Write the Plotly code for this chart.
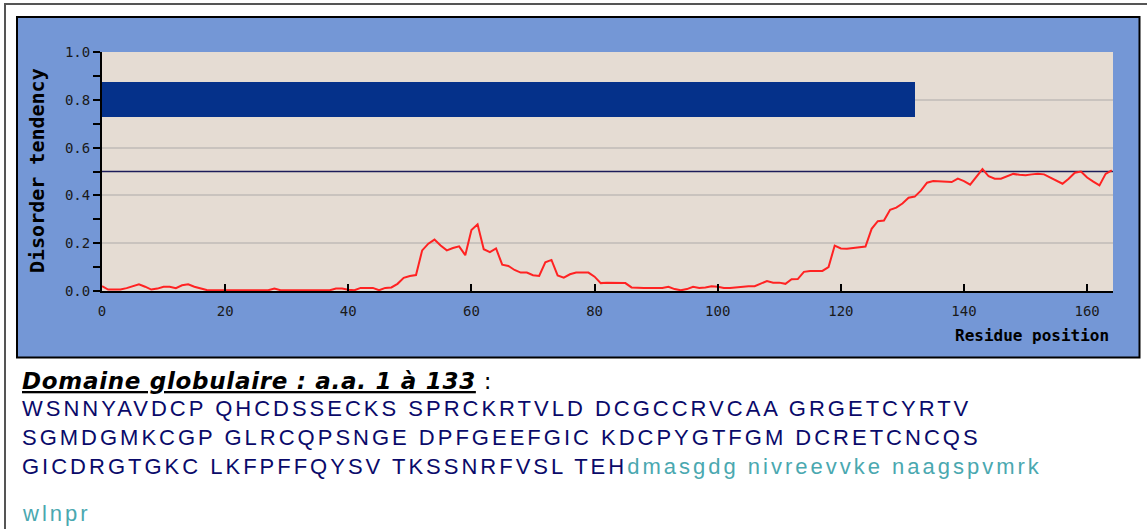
import plotly.graph_objects as go

# Per-residue disorder tendency (residue index 0..164)
positions = list(range(165))
disorder = [
    0.020, 0.006, 0.006, 0.006, 0.012, 0.020, 0.028, 0.018, 0.006, 0.010,
    0.018, 0.018, 0.012, 0.024, 0.028, 0.018, 0.012, 0.004, 0.003, 0.003,
    0.003, 0.003, 0.003, 0.003, 0.003, 0.003, 0.003, 0.003, 0.010, 0.003,
    0.003, 0.003, 0.003, 0.003, 0.003, 0.003, 0.003, 0.003, 0.010, 0.010,
    0.005, 0.003, 0.013, 0.013, 0.013, 0.003, 0.013, 0.015, 0.030, 0.055,
    0.063, 0.067, 0.170, 0.198, 0.215, 0.190, 0.170, 0.180, 0.187, 0.150,
    0.255, 0.279, 0.175, 0.163, 0.178, 0.110, 0.105, 0.088, 0.077, 0.077,
    0.066, 0.063, 0.120, 0.130, 0.065, 0.056, 0.070, 0.077, 0.077, 0.077,
    0.060, 0.033, 0.035, 0.035, 0.035, 0.033, 0.015, 0.013, 0.013, 0.013,
    0.013, 0.013, 0.018, 0.008, 0.003, 0.008, 0.018, 0.013, 0.015, 0.020,
    0.018, 0.013, 0.013, 0.015, 0.020, 0.020, 0.020, 0.030, 0.042, 0.035,
    0.035, 0.030, 0.049, 0.050, 0.080, 0.084, 0.084, 0.084, 0.100, 0.190,
    0.178, 0.177, 0.180, 0.184, 0.186, 0.260, 0.292, 0.295, 0.340, 0.349,
    0.366, 0.390, 0.395, 0.420, 0.453, 0.460, 0.458, 0.456, 0.456, 0.470,
    0.460, 0.445, 0.480, 0.510, 0.480, 0.470, 0.470, 0.480, 0.490, 0.486,
    0.484, 0.488, 0.491, 0.488, 0.475, 0.462, 0.449, 0.470, 0.495, 0.500,
    0.475, 0.458, 0.442, 0.490, 0.505,
]

# Globular domain (residues 1-133 -> index 0..132), drawn as a band at 0.8
domain_start = 0
domain_end = 132
domain_level = 0.8
domain_height = 0.145
threshold = 0.5

x_ticks = [0, 20, 40, 60, 80, 100, 120, 140, 160]
y_ticks = [0.0, 0.2, 0.4, 0.6, 0.8, 1.0]
y_tick_text = ["0.0", "0.2", "0.4", "0.6", "0.8", "1.0"]

title_text = "Domaine globulaire : a.a. 1 à 133"
seq_line1 = "WSNNYAVDCP QHCDSSECKS SPRCKRTVLD DCGCCRVCAA GRGETCYRTV"
seq_line2 = "SGMDGMKCGP GLRCQPSNGE DPFGEEFGIC KDCPYGTFGM DCRETCNCQS"
seq_line3_core = "GICDRGTGKC LKFPFFQYSV TKSSNRFVSL TEH"
seq_line3_tail = "dmasgdg nivreevvke naagspvmrk"
seq_line4_tail = "wlnpr"

BLUE_FRAME = "#7497D6"
BEIGE = "#E5DCD3"
GRID = "#C9C3BE"
NAVY_BAR = "#05318A"
RED = "#FF2222"
SEQ_NAVY = "#0A0A6A"
SEQ_TEAL = "#4AA8B0"
MONO = "DejaVu Sans Mono"
SEQ_STYLE = "letter-spacing:3px"
SEQ_SIZE = 22

fig = go.Figure()

fig.add_trace(go.Bar(
    x=[domain_end - domain_start], y=[domain_level], base=[domain_start],
    orientation="h", width=domain_height,
    marker=dict(color=NAVY_BAR, line=dict(width=0)),
    hoverinfo="skip", showlegend=False,
))

fig.add_trace(go.Scatter(
    x=[positions[0], positions[-1] + 0.2], y=[threshold, threshold],
    mode="lines", line=dict(color="#1C1C5A", width=1.5),
    hoverinfo="skip", showlegend=False,
))

fig.add_trace(go.Scatter(
    x=positions, y=disorder, mode="lines",
    line=dict(color=RED, width=2),
    showlegend=False,
))

# Pixel geometry of the plot area, used to place the frame and the texts
L, R, T, B = 102, 1113, 52, 291
W, H = R - L, B - T


def px(x):
    return (x - L) / W


def py(y):
    return (B - y) / H


def seq_span(text, color):
    return '<span style="color:' + color + ';' + SEQ_STYLE + '">' + text + "</span>"


def seq_note(text, y, color=SEQ_NAVY):
    return dict(text=text, xref="paper", yref="paper", x=px(21), y=py(y),
                showarrow=False, xanchor="left", yanchor="middle", borderpad=0,
                font=dict(family="Liberation Sans", size=SEQ_SIZE, color=color))


fig.update_layout(
    width=1147, height=529,
    margin=dict(l=L, r=1147 - R, t=T, b=529 - B),
    paper_bgcolor="white", plot_bgcolor=BEIGE,
    bargap=0,
    shapes=[
        dict(type="rect", xref="paper", yref="paper",
             x0=px(5), x1=px(1300), y0=py(4), y1=py(700),
             line=dict(color="#555555", width=2), fillcolor="white", layer="below"),
        dict(type="rect", xref="paper", yref="paper",
             x0=px(17), x1=px(1139.5), y0=py(17), y1=py(357.5),
             line=dict(color="black", width=2), fillcolor=BLUE_FRAME, layer="below"),
        dict(type="rect", xref="paper", yref="paper",
             x0=0, x1=1, y0=0, y1=1,
             line=dict(width=0), fillcolor=BEIGE, layer="below"),
    ],
    xaxis=dict(
        range=[0, 164.2], tickvals=x_ticks, ticks="inside", ticklen=7,
        tickwidth=1.5, tickcolor="black", showline=True, linecolor="black",
        linewidth=2, showgrid=False, zeroline=False,
        tickfont=dict(family=MONO, size=14, color="#1a1a1a"),
        ticklabelstandoff=6,
    ),
    yaxis=dict(
        range=[0, 1.0], tickvals=y_ticks, ticktext=y_tick_text,
        ticks="outside", ticklen=7, tickwidth=1.5, tickcolor="black",
        showline=True, linecolor="black", linewidth=2,
        showgrid=True, gridcolor=GRID, gridwidth=1.5, zeroline=False,
        minor=dict(dtick=0.1, tick0=0, ticks="outside", ticklen=7,
                   tickwidth=1.5, tickcolor="black", showgrid=False),
        tickfont=dict(family=MONO, size=14, color="#1a1a1a"),
    ),
    annotations=[
        dict(text="<b>Disorder tendency</b>", xref="paper", yref="paper",
             x=px(37), y=py(171), textangle=-90, showarrow=False,
             xanchor="center", yanchor="middle",
             font=dict(family=MONO, size=20, color="black")),
        dict(text="<b>Residue position</b>", xref="paper", yref="paper",
             x=px(1111), y=py(335), showarrow=False,
             xanchor="right", yanchor="middle",
             font=dict(family=MONO, size=16, color="black")),
        dict(text='<span style="letter-spacing:0.7px"><u><b><i>' + title_text
             + "</i></b></u> :</span>",
             xref="paper", yref="paper", x=px(21), y=py(381),
             showarrow=False, xanchor="left", yanchor="middle", borderpad=0,
             font=dict(family="DejaVu Sans", size=23, color="black")),
        seq_note(seq_span(seq_line1, SEQ_NAVY), 408),
        seq_note(seq_span(seq_line2, SEQ_NAVY), 437),
        seq_note(seq_span(seq_line3_core, SEQ_NAVY) + seq_span(seq_line3_tail, SEQ_TEAL), 466),
        seq_note(seq_span(seq_line4_tail, SEQ_TEAL), 513, SEQ_TEAL),
    ],
)

fig.write_html("out.html")
